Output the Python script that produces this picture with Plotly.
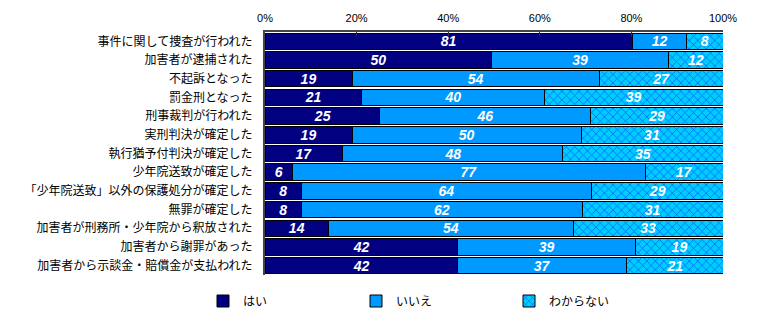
import plotly.graph_objects as go

categories = ["事件に関して捜査が行われた", "加害者が逮捕された", "不起訴となった", "罰金刑となった",
              "刑事裁判が行われた", "実刑判決が確定した", "執行猶予付判決が確定した", "少年院送致が確定した",
              "「少年院送致」以外の保護処分が確定した", "無罪が確定した", "加害者が刑務所・少年院から釈放された",
              "加害者から謝罪があった", "加害者から示談金・賠償金が支払われた"]
yes = [81, 50, 19, 21, 25, 19, 17, 6, 8, 8, 14, 42, 42]
no = [12, 39, 54, 40, 46, 50, 48, 77, 64, 62, 54, 39, 37]
dk = [8, 12, 27, 39, 29, 31, 35, 17, 29, 31, 33, 19, 21]
series_names = ["はい", "いいえ", "わからない"]
tick_vals = [0, 20, 40, 60, 80, 100]
tick_text = ["0%", "20%", "40%", "60%", "80%", "100%"]

txtfont = dict(family="Liberation Sans, Arial", size=14, color="white", weight="bold", style="italic")

fig = go.Figure()
fig.add_trace(go.Bar(y=categories, x=yes, name=series_names[0], orientation="h",
                     marker=dict(color="#000080", line=dict(color="black", width=1)),
                     text=yes, texttemplate="%{text}", textposition="inside",
                     insidetextanchor="middle", textfont=txtfont, textangle=0))
fig.add_trace(go.Bar(y=categories, x=no, name=series_names[1], orientation="h",
                     marker=dict(color="#0099FF", line=dict(color="black", width=1)),
                     text=no, texttemplate="%{text}", textposition="inside",
                     insidetextanchor="middle", textfont=txtfont, textangle=0))
fig.add_trace(go.Bar(y=categories, x=dk, name=series_names[2], orientation="h",
                     marker=dict(color="#00CCFF", line=dict(color="black", width=1),
                                 pattern=dict(shape="x", fgcolor="#0000FF", bgcolor="#00CCFF",
                                              size=6, solidity=0.25)),
                     text=dk, texttemplate="%{text}", textposition="inside",
                     insidetextanchor="middle", textfont=txtfont, textangle=0))

fig.update_layout(
    width=762, height=324,
    barmode="stack", barnorm="percent", bargap=0.12,
    margin=dict(l=265, r=39, t=32, b=49, autoexpand=False),
    plot_bgcolor="white", paper_bgcolor="white",
    font=dict(family="Noto Sans CJK JP", size=12, color="black"),
    legend=dict(orientation="h", xref="container", yref="container",
                x=203 / 762, y=(324 - 301) / 324, xanchor="left", yanchor="middle",
                entrywidth=108, entrywidthmode="pixels",
                font=dict(family="Noto Sans CJK JP", size=12), itemwidth=30,
                traceorder="normal"),
    uniformtext=dict(mode="show", minsize=13.5),
)
fig.update_xaxes(side="top", range=[0, 100], tickvals=tick_vals, ticktext=tick_text,
                 ticks="inside", ticklen=4, tickcolor="#333", showgrid=False,
                 showline=True, linecolor="#444", linewidth=2, mirror=False,
                 ticklabelstandoff=4,
                 tickfont=dict(family="Liberation Sans, Arial", size=11), zeroline=False)
fig.update_yaxes(autorange="reversed", showline=True, linecolor="#444", linewidth=2,
                 ticks="", ticklabelstandoff=8, showgrid=False,
                 tickfont=dict(family="Noto Sans CJK JP", size=12))

fig.write_html("out.html")
